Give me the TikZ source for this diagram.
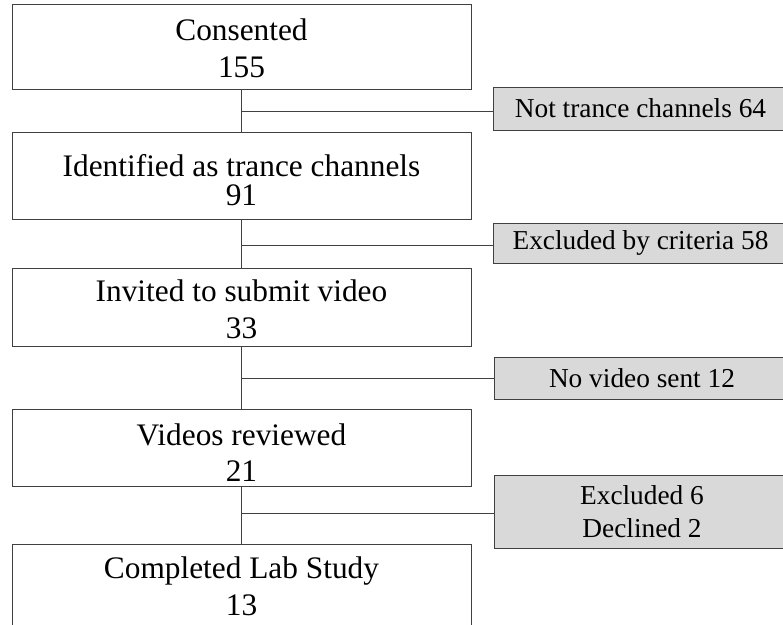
\documentclass[tikz,border=0pt]{standalone}
\usepackage{fontspec}
\setmainfont{Liberation Serif}
\usetikzlibrary{positioning}
\definecolor{edgegray}{HTML}{404040}
\definecolor{dropfill}{HTML}{D9D9D9}
\newcommand{\lowtext}[1]{\rule{0pt}{#1}}
\tikzset{
  stagebox/.style={
    draw=edgegray, fill=white, line width=0.75pt, align=center,
    inner sep=0pt, minimum width=344.25pt,
    font=\fontsize{23.5}{27.5}\selectfont
  },
  dropbox/.style={
    draw=edgegray, fill=dropfill, line width=0.75pt, align=center,
    inner sep=0pt, minimum width=221.25pt,
    font=\fontsize{20.5}{25}\selectfont
  },
  flowline/.style={draw=edgegray, line width=0.75pt}
}

\begin{document}
\begin{tikzpicture}[x=0.75pt,y=-0.75pt]
  \useasboundingbox (0,0) rectangle (783,625);
  \clip (0,0) rectangle (783,625);

  % main stages
  \node[stagebox, minimum height=63.75pt] (consent) at (241.5,46.5) {\lowtext{19pt}Consented\\155};
  \node[stagebox, minimum height=65.25pt] (ident) at (241.5,175.5) {\lowtext{23pt}Identified as trance channels\\[-5.5pt]91};
  \node[stagebox, minimum height=58.5pt] (invite) at (241.5,307) {\lowtext{19.5pt}Invited to submit video\\33};
  \node[stagebox, minimum height=57.75pt] (review) at (241.5,447.5) {\lowtext{24pt}Videos reviewed\\21};
  \node[stagebox, minimum height=63.75pt] (lab) at (241.5,586.5) {Completed Lab Study\\13};

  % drop-outs
  \node[dropbox, minimum height=32.25pt] (notrance) at (640.5,108.5) {Not trance channels 64};
  \node[dropbox, minimum height=30pt] (criteria) at (640.5,243) {Excluded by criteria 58};
  \node[dropbox, minimum height=31.5pt] (novideo) at (642,378) {No video sent 12};
  \node[dropbox, minimum height=54.75pt] (declined) at (642,511.5) {Excluded 6\\Declined 2};

  % branch points
  \coordinate (j1) at (241.5,111);
  \coordinate (j2) at (241.5,245);
  \coordinate (j3) at (241.5,378);
  \coordinate (j4) at (241.5,513);

  \draw[flowline] (consent) -- (ident);
  \draw[flowline] (ident) -- (invite);
  \draw[flowline] (invite) -- (review);
  \draw[flowline] (review) -- (lab);

  \draw[flowline] (j1) -- (j1 -| notrance.west);
  \draw[flowline] (j2) -- (j2 -| criteria.west);
  \draw[flowline] (j3) -- (j3 -| novideo.west);
  \draw[flowline] (j4) -- (j4 -| declined.west);
\end{tikzpicture}
\end{document}
